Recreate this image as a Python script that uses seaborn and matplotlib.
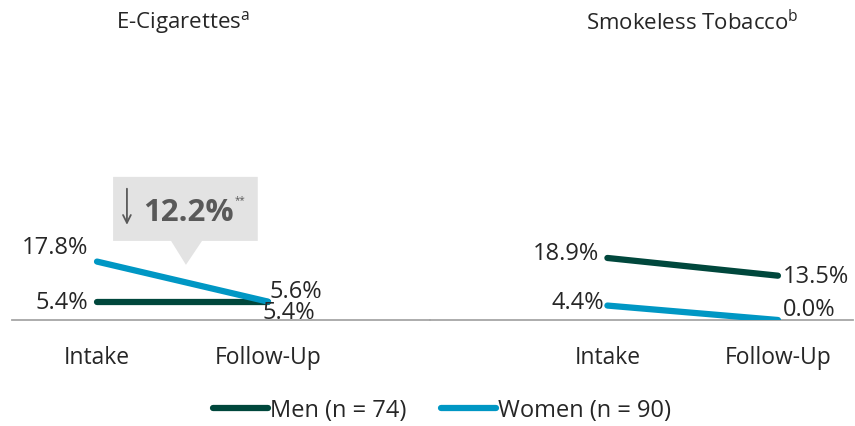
"""Tobacco use at intake vs follow-up, by gender."""

import pandas as pd
import matplotlib.pyplot as plt
import seaborn as sns
from matplotlib.patches import Polygon

# Data
timepoints = ['Intake', 'Follow-Up']
groups = ['Men (n = 74)', 'Women (n = 90)']
ecig_men = [5.4, 5.4]
ecig_women = [17.8, 5.6]
smokeless_men = [18.9, 13.5]
smokeless_women = [4.4, 0.0]
panel_titles = ['E-Cigarettes$^{\\mathregular{a}}$', 'Smokeless Tobacco$^{\\mathregular{b}}$']
ecig_change = '12.2%'

GREEN = '#00473C'
BLUE = '#0097C4'
GRAY_LINE = '#A6A6A6'
TEXT = '#262626'

sns.set_style('white')
plt.rcParams['font.family'] = ['Open Sans', 'DejaVu Sans']
plt.rcParams['mathtext.fontset'] = 'custom'
plt.rcParams['mathtext.rm'] = 'Open Sans'


def make_df(men, women):
    rows = []
    for g, vals in zip(groups, [men, women]):
        for t, v in zip(timepoints, vals):
            rows.append({'time': t, 'group': g, 'pct': v})
    return pd.DataFrame(rows)


fig = plt.figure(figsize=(8.55, 4.27), dpi=100)
W, H = 855, 427
bottom = (H - 321) / H
height = (321 - 42) / H
ax1 = fig.add_axes([12 / W, bottom, 418 / W, height])
ax2 = fig.add_axes([430 / W, bottom, 423 / W, height])

palette = {groups[0]: GREEN, groups[1]: BLUE}

for ax, men, women, title, xlim in [
    (ax1, ecig_men, ecig_women, panel_titles[0], (-0.497, 1.947)),
    (ax2, smokeless_men, smokeless_women, panel_titles[1], (-1.04, 1.44)),
]:
    df = make_df(men, women)
    sns.lineplot(data=df, x='time', y='pct', hue='group', palette=palette,
                 linewidth=4.5, ax=ax, legend=False, sort=False,
                 solid_capstyle='round')
    ax.set_xlim(*xlim)
    ax.set_ylim(0, 85)
    ax.set_xticks(range(len(timepoints)))
    ax.set_xticklabels(timepoints, fontsize=16.5, color=TEXT)
    ax.tick_params(axis='x', length=0, pad=18)
    ax.set_yticks([])
    ax.set_xlabel('')
    ax.set_ylabel('')
    for s in ['top', 'left', 'right']:
        ax.spines[s].set_visible(False)
    ax.spines['bottom'].set_color(GRAY_LINE)
    ax.spines['bottom'].set_linewidth(1.3)
    ax.spines['bottom'].set_zorder(0)
    ax.text(0.5, 91, title, ha='center', va='center', fontsize=16,
            color=TEXT, clip_on=False)
    ax.patch.set_alpha(0)

# Data labels
lab = dict(fontsize=17, color=TEXT)
ax1.text(-0.05, ecig_women[0] + 4.4, f'{ecig_women[0]:.1f}%', ha='right', va='center', **lab)
ax1.text(-0.05, ecig_men[0], f'{ecig_men[0]:.1f}%', ha='right', va='center', **lab)
ax1.text(1.01, ecig_women[1] + 3.3, f'{ecig_women[1]:.1f}%', ha='left', va='center', **lab)
ax1.text(0.97, ecig_men[1] - 3.1, f'{ecig_men[1]:.1f}%', ha='left', va='center', **lab)
ax2.text(-0.05, smokeless_men[0] + 1.5, f'{smokeless_men[0]:.1f}%', ha='right', va='center', **lab)
ax2.text(-0.02, smokeless_women[0] + 1.1, f'{smokeless_women[0]:.1f}%', ha='right', va='center', **lab)
ax2.text(1.03, smokeless_men[1], f'{smokeless_men[1]:.1f}%', ha='left', va='center', **lab)
ax2.text(1.03, smokeless_women[1] + 3.3, f'{smokeless_women[1]:.1f}%', ha='left', va='center', **lab)

# Callout for the e-cigarette change
callout = Polygon([(0.094, 43.6), (0.94, 43.6), (0.94, 24.1), (0.614, 24.1),
                   (0.52, 16.8), (0.433, 24.1), (0.094, 24.1)],
                  closed=True, facecolor='#E3E3E3', edgecolor='none', zorder=1)
ax1.add_patch(callout)
ax1.annotate('', xy=(0.175, 29.0), xytext=(0.175, 40.0),
             arrowprops=dict(arrowstyle='->', color='#595959', lw=1.3,
                             mutation_scale=14, shrinkA=0, shrinkB=0),
             zorder=3)
ax1.text(0.535, 33.0, ecig_change, ha='center', va='center', fontsize=22.5,
         fontweight='bold', color='#595959', zorder=3)
ax1.text(0.805, 36.8, '**', ha='left', va='center', fontsize=7,
         color='#595959', zorder=3)

# Legend
handles = [plt.Line2D([], [], color=palette[g], linewidth=4.5, solid_capstyle='round')
           for g in groups]
fig.legend(handles, groups, loc='center', bbox_to_anchor=(0.517, (H - 411) / H),
           ncol=2, frameon=False, fontsize=17, handlelength=2.3,
           handletextpad=0.08, columnspacing=1.5, labelcolor=TEXT)

fig.savefig('out.png', dpi=100)
